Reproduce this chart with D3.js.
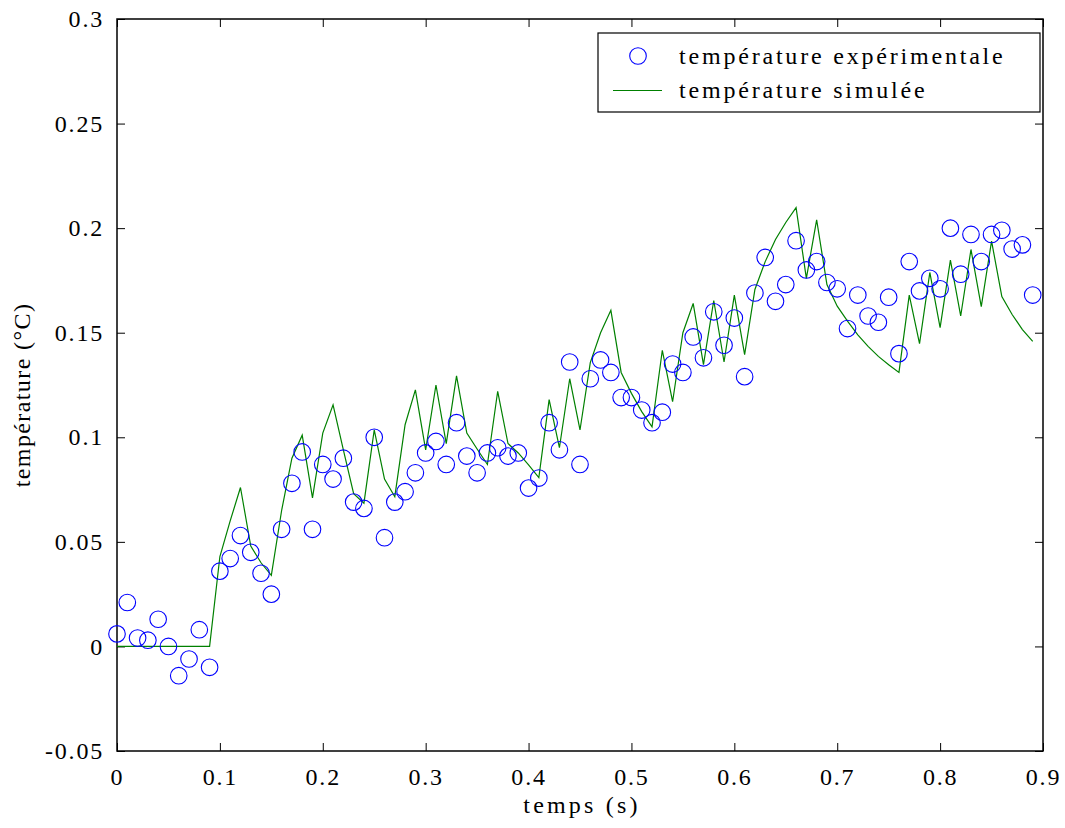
<!DOCTYPE html>
<html>
<head>
<meta charset="utf-8">
<script src="https://cdn.jsdelivr.net/npm/d3@7"></script>
<style>
  html, body { margin: 0; padding: 0; background: #fff; }
  svg { display: block; }
  text { font-family: "Times New Roman", "Liberation Serif", Tinos, serif; fill: #000; }
</style>
</head>
<body>
<svg id="chart" width="1065" height="828"></svg>
<script>
// Time samples (s)
const time = d3.range(90).map(i => +(i * 0.01).toFixed(2));

// Measured temperature rise (°C)
const tempExperimental = [
  0.006, 0.021, 0.004, 0.003, 0.013, 0.000, -0.014, -0.006, 0.008, -0.010,
  0.036, 0.042, 0.053, 0.045, 0.035, 0.025, 0.056, 0.078, 0.093, 0.056,
  0.087, 0.080, 0.090, 0.069, 0.066, 0.100, 0.052, 0.069, 0.074, 0.083,
  0.0925, 0.098, 0.087, 0.107, 0.091, 0.083, 0.0925, 0.095, 0.091, 0.0925,
  0.0757, 0.0805, 0.107, 0.094, 0.136, 0.087, 0.128, 0.137, 0.131, 0.119,
  0.119, 0.113, 0.107, 0.112, 0.135, 0.131, 0.148, 0.138, 0.160, 0.144,
  0.157, 0.129, 0.169, 0.186, 0.165, 0.173, 0.194, 0.180, 0.184, 0.174,
  0.171, 0.152, 0.168, 0.158, 0.155, 0.167, 0.140, 0.184, 0.170, 0.176,
  0.171, 0.200, 0.178, 0.197, 0.184, 0.197, 0.199, 0.190, 0.192, 0.168
];

// Simulated temperature rise (°C)
const tempSimulated = [
  0, 0, 0, 0, 0, 0, 0, 0, 0, 0,
  0.043, 0.060, 0.076, 0.048, 0.040, 0.034, 0.065, 0.090, 0.101, 0.071,
  0.102, 0.1155, 0.094, 0.073, 0.0685, 0.1035, 0.080, 0.0716, 0.106, 0.1227,
  0.094, 0.125, 0.097, 0.1294, 0.102, 0.0944, 0.087, 0.122, 0.097, 0.0925,
  0.0868, 0.0807, 0.118, 0.095, 0.128, 0.1035, 0.1357, 0.150, 0.1607, 0.131,
  0.121, 0.1123, 0.105, 0.1416, 0.117, 0.150, 0.164, 0.1347, 0.1654, 0.136,
  0.168, 0.1395, 0.1707, 0.184, 0.1946, 0.2027, 0.2098, 0.176, 0.204, 0.173,
  0.1627, 0.1555, 0.149, 0.1435, 0.1387, 0.1347, 0.131, 0.168, 0.1448, 0.1788,
  0.1524, 0.1847, 0.158, 0.1898, 0.1625, 0.1938, 0.1673, 0.1587, 0.1515, 0.1459
];

const xTicks = [0, 0.1, 0.2, 0.3, 0.4, 0.5, 0.6, 0.7, 0.8, 0.9];
const yTicks = [-0.05, 0, 0.05, 0.1, 0.15, 0.2, 0.25, 0.3];
const legendLabels = ["température expérimentale", "température simulée"];

const svg = d3.select("#chart");
const plot = { left: 117, right: 1043, top: 19, bottom: 751 };

const x = d3.scaleLinear().domain([0, 0.9]).range([plot.left, plot.right]);
const y = d3.scaleLinear().domain([-0.05, 0.3]).range([plot.bottom, plot.top]);

const serif = '"Times New Roman", "Liberation Serif", Tinos, serif';
const fmt = d => String(+d.toFixed(2));
const tickLen = 8;

// Axes: ticks point inward, labels on bottom and left only
const bottomAxis = d3.axisBottom(x).tickValues(xTicks).tickFormat(fmt).tickSizeInner(-tickLen).tickSizeOuter(0).tickPadding(17);
const topAxis = d3.axisTop(x).tickValues(xTicks).tickFormat("").tickSizeInner(-tickLen).tickSizeOuter(0);
const leftAxis = d3.axisLeft(y).tickValues(yTicks).tickFormat(fmt).tickSizeInner(-tickLen).tickSizeOuter(0).tickPadding(13);
const rightAxis = d3.axisRight(y).tickValues(yTicks).tickFormat("").tickSizeInner(-tickLen).tickSizeOuter(0);

function styleAxis(g) {
  g.select(".domain").remove();
  g.selectAll(".tick line").attr("stroke", "#000").attr("stroke-width", 1);
  g.selectAll(".tick text")
    .style("font-family", serif)
    .style("font-size", "24px")
    .style("letter-spacing", "1.8px")
    .attr("fill", "#000");
}

svg.append("g").attr("transform", `translate(0,${plot.bottom})`).call(bottomAxis).call(styleAxis);
svg.append("g").attr("transform", `translate(0,${plot.top})`).call(topAxis).call(styleAxis);
svg.append("g").attr("transform", `translate(${plot.left},0)`).call(leftAxis).call(styleAxis);
svg.append("g").attr("transform", `translate(${plot.right},0)`).call(rightAxis).call(styleAxis);

// Frame
svg.append("rect")
  .attr("x", plot.left).attr("y", plot.top)
  .attr("width", plot.right - plot.left).attr("height", plot.bottom - plot.top)
  .attr("fill", "none").attr("stroke", "#000").attr("stroke-width", 1.5);

// Simulated curve
const line = d3.line().x((d, i) => x(time[i])).y(d => y(d));
svg.append("path")
  .datum(tempSimulated)
  .attr("d", line)
  .attr("fill", "none")
  .attr("stroke", "#008000")
  .attr("stroke-width", 1.2);

// Measured points
svg.append("g").selectAll("circle")
  .data(tempExperimental)
  .join("circle")
  .attr("cx", (d, i) => x(time[i]))
  .attr("cy", d => y(d))
  .attr("r", 8.3)
  .attr("fill", "none")
  .attr("stroke", "#0000ff")
  .attr("stroke-width", 1.1);

// Axis titles
svg.append("text")
  .attr("x", (plot.left + plot.right) / 2 + 2).attr("y", 813)
  .attr("text-anchor", "middle")
  .style("font-family", serif)
  .style("font-size", "24px").style("letter-spacing", "3.2px")
  .text("temps (s)");

svg.append("text")
  .attr("transform", "translate(30,395) rotate(-90)")
  .attr("text-anchor", "middle")
  .style("font-family", serif)
  .style("font-size", "24px").style("letter-spacing", "1.4px")
  .text("température (°C)");

// Legend
const legend = svg.append("g");
legend.append("rect")
  .attr("x", 598).attr("y", 33).attr("width", 442).attr("height", 79)
  .attr("fill", "#fff").attr("stroke", "#000").attr("stroke-width", 1.2);
legend.append("circle")
  .attr("cx", 638).attr("cy", 56).attr("r", 8.3)
  .attr("fill", "none").attr("stroke", "#0000ff").attr("stroke-width", 1.1);
legend.append("line")
  .attr("x1", 613).attr("x2", 662).attr("y1", 90.5).attr("y2", 90.5)
  .attr("stroke", "#008000").attr("stroke-width", 1.2);
legend.selectAll("text.entry")
  .data(legendLabels)
  .join("text")
  .attr("class", "entry")
  .attr("x", 679)
  .attr("y", (d, i) => 64 + i * 34)
  .style("font-family", serif)
  .style("font-size", "24px").style("letter-spacing", "2.8px")
  .text(d => d);
</script>
</body>
</html>
